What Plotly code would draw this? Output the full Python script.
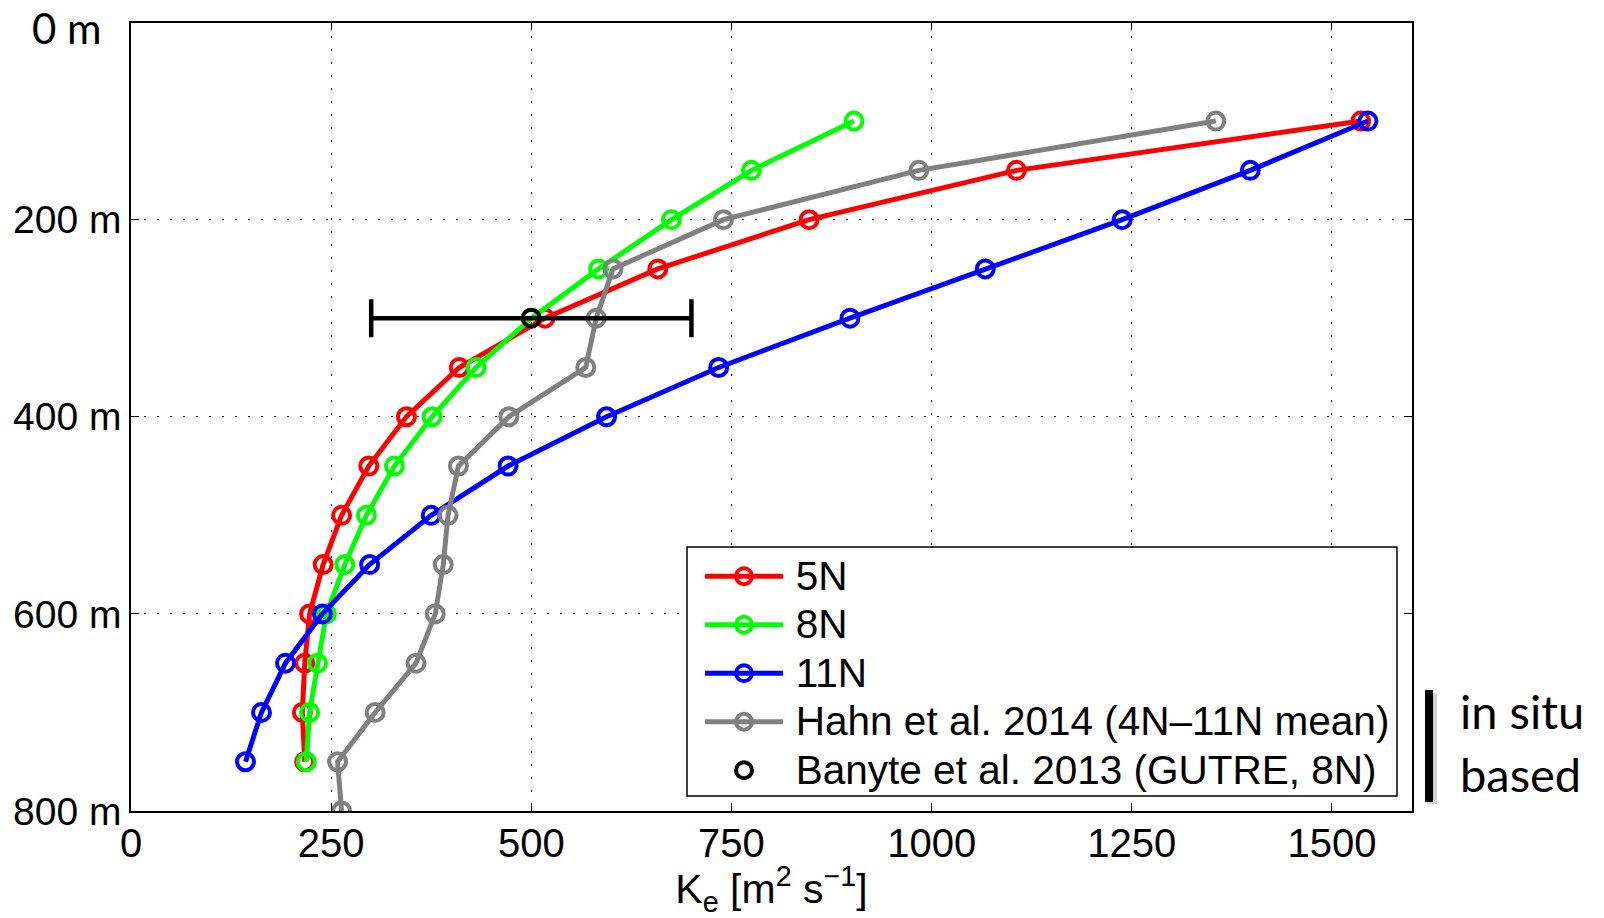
import plotly.graph_objects as go

# Depth levels (m)
depth = [100, 150, 200, 250, 300, 350, 400, 450, 500, 550, 600, 650, 700, 750]
depth_hahn = depth + [800]

# Eddy diffusivity K_e (m^2 s^-1) at each depth
ke_5n = [1536, 1106, 847, 658, 517, 410, 344, 297, 263, 240, 223, 217, 214, 217]
ke_8n = [903, 775, 675, 584, 500, 431, 376, 329, 294, 267, 244, 233, 223, 219]
ke_11n = [1545, 1398, 1238, 1067, 898, 734, 594, 471, 375, 298, 239, 193, 163, 143]
ke_hahn = [1355, 984, 740, 602, 581, 568, 472, 409, 396, 390, 380, 356, 305, 258, 263]

# GUTRE estimate at 8N with its uncertainty
banyte_depth = [300]
banyte_ke = [500]
banyte_err = [200]

x_ticks = [0, 250, 500, 750, 1000, 1250, 1500]
y_ticks = [200, 400, 600, 800]
y_ticklabels = ["200 m", "400 m", "600 m", "800 m"]

W, H = 1604, 918
L, R, T, B = 131, 1412, 22.5, 811

MAIN_FONT = "Liberation Sans, Arial, Helvetica, sans-serif"
SIDE_FONT = "Lato, Open Sans, sans-serif"


def legend_label(text):
    # small lead-in gap, then glyphs larger than the legend's nominal row font
    return ('<span style="font-size:28px">\u00a0</span>'
            '<span style="font-size:40.5px">' + text + "</span>")


fig = go.Figure()

series = [
    ("5N", ke_5n, depth, "#ff0000"),
    ("8N", ke_8n, depth, "#00ff00"),
    ("11N", ke_11n, depth, "#0000ff"),
    ("Hahn et al. 2014 (4N\u201311N mean)", ke_hahn, depth_hahn, "#808080"),
]
for name, xs, ys, col in series:
    fig.add_trace(go.Scatter(
        x=xs, y=ys, name=legend_label(name), mode="lines+markers",
        line=dict(color=col, width=5),
        marker=dict(symbol="circle-open", size=17, color=col, line=dict(width=4, color=col)),
    ))

fig.add_trace(go.Scatter(
    x=banyte_ke, y=banyte_depth, name=legend_label("Banyte et al. 2013 (GUTRE, 8N)"),
    mode="markers",
    marker=dict(symbol="circle-open", size=17, color="black", line=dict(width=4, color="black")),
    error_x=dict(type="data", array=banyte_err, visible=True, color="black", thickness=4.5, width=19),
))

grid_dash = "2px,11px"
fig.update_xaxes(
    domain=[L / W, R / W], range=[0, 1600], tickvals=x_ticks, automargin=False,
    ticks="inside", ticklen=8, tickwidth=1, tickcolor="black",
    showline=True, linecolor="black", linewidth=1.5, mirror="allticks",
    showgrid=True, gridcolor="rgba(0,0,0,0.85)", gridwidth=1, griddash=grid_dash,
    zeroline=False, tickfont=dict(family=MAIN_FONT, size=40, color="black"),
    ticklabelstandoff=-4,
    title=dict(text="K<sub>e</sub> [m<sup>2</sup> s<sup>\u22121</sup>]",
               font=dict(family=MAIN_FONT, size=41, color="black"), standoff=0),
)
fig.update_yaxes(
    domain=[1 - B / H, 1 - T / H], range=[800, 0], tickvals=y_ticks, ticktext=y_ticklabels,
    automargin=False,
    ticks="inside", ticklen=8, tickwidth=1, tickcolor="black",
    showline=True, linecolor="black", linewidth=1.5, mirror="allticks",
    showgrid=True, gridcolor="rgba(0,0,0,0.85)", gridwidth=1, griddash=grid_dash,
    zeroline=False, tickfont=dict(family=MAIN_FONT, size=39, color="black"),
    ticklabelstandoff=0,
)

# legend frame (drawn as a shape so the entries can sit inset from it)
box_x0, box_x1, box_y0, box_y1 = 687, 1397, 547, 796

fig.update_layout(
    width=W, height=H, margin=dict(l=0, r=0, t=0, b=0, autoexpand=False),
    paper_bgcolor="white", plot_bgcolor="white",
    font=dict(family=MAIN_FONT, color="black"),
    legend=dict(
        x=700 / W, y=1 - 547 / H, xanchor="left", yanchor="top",
        bgcolor="rgba(0,0,0,0)", borderwidth=0,
        font=dict(family=MAIN_FONT, size=35, color="black"),
        itemwidth=78, tracegroupgap=0,
    ),
    showlegend=True,
    annotations=[
        dict(text="0 m", x=104 / W, y=1 - 28 / H, xref="paper", yref="paper",
             xanchor="right", yanchor="middle", showarrow=False,
             font=dict(family=SIDE_FONT, size=42, color="black")),
        dict(text="in situ", x=1458 / W, y=1 - 711 / H, xref="paper", yref="paper",
             xanchor="left", yanchor="middle", showarrow=False,
             font=dict(family=SIDE_FONT, size=47, color="black")),
        dict(text="based", x=1458 / W, y=1 - 774 / H, xref="paper", yref="paper",
             xanchor="left", yanchor="middle", showarrow=False,
             font=dict(family=SIDE_FONT, size=47, color="black")),
    ],
    shapes=[
        dict(type="rect", xref="paper", yref="paper",
             x0=box_x0 / W, x1=box_x1 / W, y0=1 - box_y1 / H, y1=1 - box_y0 / H,
             fillcolor="white", line=dict(color="black", width=1.5), layer="above"),
        # soft shadow behind the bracket bar
        dict(type="rect", xref="paper", yref="paper",
             x0=1427 / W, x1=1437 / W, y0=1 - 804 / H, y1=1 - 693 / H,
             fillcolor="rgba(0,0,0,0.18)", line=dict(width=0), layer="below"),
        dict(type="rect", xref="paper", yref="paper",
             x0=1425 / W, x1=1433 / W, y0=1 - 802 / H, y1=1 - 690 / H,
             fillcolor="black", line=dict(width=0)),
    ],
)

fig.write_html("out.html")
